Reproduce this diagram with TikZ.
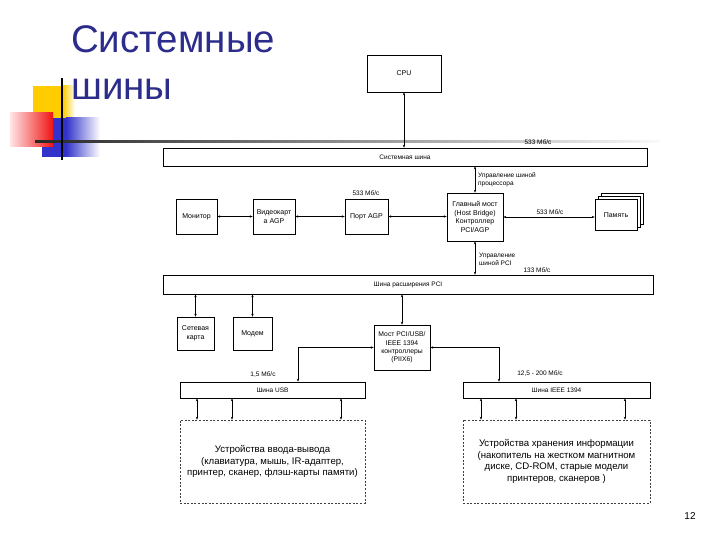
\documentclass[tikz,border=0pt]{standalone}
\usepackage{fontspec}
\setmainfont{Liberation Sans}
\usetikzlibrary{arrows.meta,calc}
\definecolor{titleblue}{RGB}{44,44,140}
\definecolor{logoyellow}{RGB}{255,204,0}
\definecolor{logoblue}{RGB}{51,51,204}
\definecolor{logored}{RGB}{240,20,20}
\tikzset{
  box/.style={draw=black, line width=0.6pt, fill=white, align=center, inner sep=1pt, font=\fontsize{7}{8.5}\selectfont},
  bus/.style={draw=black, line width=0.6pt, fill=white, font=\fontsize{6.5}{8}\selectfont},
  dbox/.style={draw=black!75, line width=0.6pt, dash pattern=on 2pt off 1.6pt, align=center, font=\fontsize{9.6}{11.5}\selectfont},
  lbl/.style={font=\fontsize{6.5}{8}\selectfont, inner sep=0pt, align=left},
  conn/.style={line width=0.6pt, {Stealth[length=3pt,width=2.4pt]}-{Stealth[length=3pt,width=2.4pt]}},
}
\begin{document}
\begin{tikzpicture}[x=1pt,y=-1pt]
\useasboundingbox (0,0) rectangle (720,540);
% logo
\fill[logoyellow] (33,86) rectangle (63,125);
\shade[left color=logoyellow, right color=white] (63,86) rectangle (75,125);
\fill[logoblue] (42,118) rectangle (66,157);
\shade[left color=logoblue, right color=white] (66,118) rectangle (100,157);
\shade[left color=red!10, right color=logored] (10,113) rectangle (53,147);
\shade[left color=black!85, middle color=gray!45, right color=gray!4] (35,140.8) rectangle (660,142.3);
\fill[black] (61.2,78) rectangle (62.8,160);
% title
\node[anchor=base west, inner sep=0pt, text=titleblue, font=\fontsize{38.5}{44}\selectfont] (t1) at (71,53) {Системные};
\node[anchor=base west, inner sep=0pt, text=titleblue, font=\fontsize{38.5}{44}\selectfont] (t2) at (71,100) {шины};
% nodes
\node[box, minimum width=74pt, minimum height=37pt] (cpu) at (404,73.5) {CPU};
\node[bus, minimum width=484pt, minimum height=18pt] (sys) at (405,157) {Системная шина};
\node[box, minimum width=41pt, minimum height=35pt] (mon) at (196.5,216.5) {Монитор};
\node[box, minimum width=42pt, minimum height=35pt] (vid) at (274,216.5) {Видеокарт\\а AGP};
\node[box, minimum width=43pt, minimum height=35pt] (agp) at (366.5,216.5) {Порт AGP};
\node[box, minimum width=56pt, minimum height=48pt] (host) at (475,217) {Главный мост\\(Host Bridge)\\Контроллер\\PCI/AGP};
\node[box, minimum width=42pt, minimum height=31pt] (mem3) at (622,209) {};
\node[box, minimum width=42pt, minimum height=31pt] (mem2) at (619,212) {};
\node[box, minimum width=42pt, minimum height=31pt] (mem) at (616,215) {Память};
\node[bus, minimum width=490pt, minimum height=19pt] (pci) at (408,284.5) {Шина расширения PCI};
\node[box, minimum width=37pt, minimum height=33pt] (net) at (195.5,333.5) {Сетевая\\карта};
\node[box, minimum width=39pt, minimum height=33pt] (modem) at (252.5,333.5) {Модем};
\node[box, minimum width=56pt, minimum height=45pt, font=\fontsize{6.8}{8.3}\selectfont] (piix) at (402,347.5) {Мост PCI/USB/\\IEEE 1394\\контроллеры\\(PIIX6)};
\node[bus, minimum width=185pt, minimum height=16pt] (usb) at (272.5,390) {Шина USB};
\node[bus, minimum width=187pt, minimum height=16pt] (ieee) at (556.5,390) {Шина IEEE 1394};
\node[dbox, minimum width=185pt, minimum height=83pt] (io) at (272.5,461.5) {Устройства ввода-вывода\\(клавиатура, мышь, IR-адаптер,\\принтер, сканер, флэш-карты памяти)};
\node[dbox, minimum width=187pt, minimum height=83pt] (stor) at (556.5,461.5) {Устройства хранения информации\\(накопитель на жестком магнитном\\диске, CD-ROM, старые модели\\принтеров, сканеров )};
% labels
\node[lbl] (l1) at (538,142) {533 Мб/с};
\node[lbl] (l2) at (366,193) {533 Мб/с};
\node[lbl, anchor=west] (l3) at (478,180) {Управление шиной\\процессора};
\node[lbl] (l4) at (550,212) {533 Мб/с};
\node[lbl, anchor=west] (l5) at (479,259) {Управление\\шиной PCI};
\node[lbl] (l6) at (537,270) {133 Мб/с};
\node[lbl] (l7) at (263,375) {1,5 Мб/с};
\node[lbl] (l8) at (540,374) {12,5 - 200 Мб/с};
\node[inner sep=0pt, font=\fontsize{10}{12}\selectfont] (pg) at (690,516) {12};
% coordinates for free ends
\coordinate (ux) at (298,0);
\coordinate (ix) at (499,0);
\coordinate (a1) at (197,0);
\coordinate (a2) at (232,0);
\coordinate (a3) at (341,0);
\coordinate (b1) at (481,0);
\coordinate (b2) at (516,0);
\coordinate (b3) at (625,0);
% connectors
\draw[conn] (cpu.south) -- (cpu.south |- sys.north);
\draw[conn] (mon.east) -- (vid.west);
\draw[conn] (vid.east) -- (agp.west);
\draw[conn] (agp.east) -- (agp.east -| host.west);
\draw[conn] (host.north) -- (host.north |- sys.south);
\draw[conn] (host.east) -- (host.east -| mem.west);
\draw[conn] (host.south) -- (host.south |- pci.north);
\draw[conn] (net.north) -- (net.north |- pci.south);
\draw[conn] (modem.north) -- (modem.north |- pci.south);
\draw[conn] (piix.north) -- (piix.north |- pci.south);
\draw[conn] (piix.west) -| (usb.north -| ux);
\draw[conn] (piix.east) -| (ieee.north -| ix);
\draw[conn] (usb.south -| a1) -- (io.north -| a1);
\draw[conn] (usb.south -| a2) -- (io.north -| a2);
\draw[conn] (usb.south -| a3) -- (io.north -| a3);
\draw[conn] (ieee.south -| b1) -- (stor.north -| b1);
\draw[conn] (ieee.south -| b2) -- (stor.north -| b2);
\draw[conn] (ieee.south -| b3) -- (stor.north -| b3);
\end{tikzpicture}
\end{document}
